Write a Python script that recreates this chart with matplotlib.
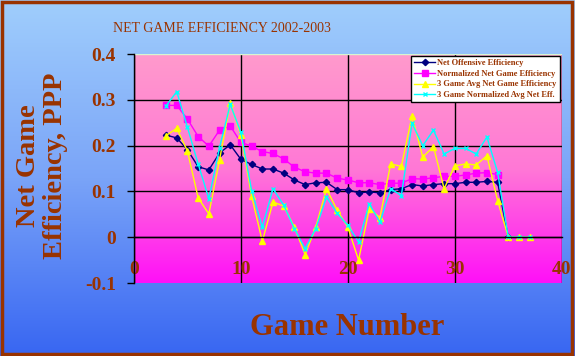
import numpy as np
import matplotlib.pyplot as plt
from matplotlib.colors import LinearSegmentedColormap
from matplotlib.patches import Rectangle

plt.rcParams['font.family'] = 'Liberation Serif'

# data (game number -> points per possession)
games_off = list(range(3, 36))
net_off = [0.223, 0.217, 0.191, 0.154, 0.147, 0.184, 0.202, 0.170, 0.159, 0.149,
           0.149, 0.140, 0.125, 0.115, 0.119, 0.120, 0.104, 0.104, 0.097, 0.099,
           0.097, 0.104, 0.106, 0.115, 0.112, 0.115, 0.117, 0.117, 0.120, 0.120,
           0.122, 0.120, 0.0]

games_norm = list(range(3, 35))
norm_net = [0.288, 0.288, 0.258, 0.220, 0.199, 0.234, 0.243, 0.207, 0.199, 0.187,
            0.183, 0.171, 0.153, 0.143, 0.140, 0.140, 0.129, 0.125, 0.119, 0.119,
            0.115, 0.118, 0.118, 0.128, 0.127, 0.130, 0.133, 0.133, 0.136, 0.140,
            0.141, 0.137]

games_avg = list(range(3, 38))
avg3_net = [0.222, 0.238, 0.188, 0.086, 0.051, 0.169, 0.293, 0.223, 0.090, -0.009,
            0.077, 0.068, 0.022, -0.038, 0.022, 0.106, 0.059, 0.022, -0.050, 0.062,
            0.043, 0.160, 0.155, 0.265, 0.175, 0.198, 0.106, 0.156, 0.160, 0.158,
            0.178, 0.080, 0.0, 0.0, 0.0]
avg3_norm = [0.287, 0.318, 0.240, 0.160, 0.084, 0.196, 0.290, 0.229, 0.102, 0.022,
             0.106, 0.070, 0.019, -0.025, 0.019, 0.088, 0.052, 0.026, -0.010, 0.073,
             0.033, 0.106, 0.091, 0.249, 0.200, 0.234, 0.182, 0.194, 0.194, 0.182,
             0.219, 0.142, 0.0, 0.0, 0.0]

labels = ["Net Offensive Efficiency", "Normalized Net Game Efficiency",
          "3 Game Avg Net Game Efficiency", "3 Game Normalized Avg Net Eff."]
yticks = [-0.1, 0, 0.1, 0.2, 0.3, 0.4]
ytick_labels = ["-0.1", "0", "0.1", "0.2", "0.3", "0.4"]
xticks = [0, 10, 20, 30, 40]

brown = '#993300'

fig = plt.figure(figsize=(5.75, 3.56), dpi=100)

# blue gradient background
bg = fig.add_axes([0, 0, 1, 1])
bg.axis('off')
grad = np.linspace(0, 1, 256).reshape(-1, 1)
blue = LinearSegmentedColormap.from_list('blue', ['#A0CEFC', '#7AA4F8', '#3866F2'])
bg.imshow(grad, aspect='auto', cmap=blue, extent=[0, 1, 0, 1], origin='upper')
bg.set_xlim(0, 1)
bg.set_ylim(0, 1)
fig.patches.append(Rectangle((0.004, 0.006), 0.990, 0.988, transform=fig.transFigure,
                             fill=False, edgecolor=brown, lw=2.5))

ax = fig.add_axes([0.233, 0.205, 0.744, 0.643])
pink = LinearSegmentedColormap.from_list('pink', ['#FF9ACC', '#FF78D6', '#FF10F8'])
ax.imshow(grad, aspect='auto', cmap=pink, extent=[0, 40, -0.1, 0.4], origin='upper', zorder=0)

ax.plot(games_off, net_off, color='#000080', marker='D', ms=3.2, lw=1, label=labels[0])
ax.plot(games_norm, norm_net, color='#FF00FF', marker='s', ms=5, lw=1, label=labels[1])
ax.plot(games_avg, avg3_net, color='#FFFF00', marker='^', ms=4.5, lw=1, label=labels[2])
ax.plot(games_avg, avg3_norm, color='#00FFFF', marker='x', ms=3.5, mew=1, lw=1, label=labels[3])

ax.set_xlim(0, 40)
ax.set_ylim(-0.1, 0.4)
ax.set_xticks(xticks)
ax.set_yticks(yticks)
ax.set_yticklabels(ytick_labels)

ax.grid(True, color='black', lw=1, zorder=1)
ax.set_axisbelow(True)
ygl = ax.yaxis.get_gridlines()
ygl[0].set_visible(False)
ygl[-1].set_visible(False)
xgl = ax.xaxis.get_gridlines()
xgl[0].set_visible(False)
xgl[-1].set_visible(False)

for s in ['top', 'right']:
    ax.spines[s].set_visible(False)
ax.spines['left'].set_linewidth(1)
ax.spines['bottom'].set_position(('data', 0))
ax.spines['bottom'].set_linewidth(1)
ax.axhline(0.4, color='#D8F5D0', lw=1)

ax.tick_params(axis='x', length=0, pad=17, labelsize=14, labelcolor=brown)
ax.tick_params(axis='y', length=5, width=1, pad=8, labelsize=14, labelcolor=brown)
for t in ax.get_xticklabels() + ax.get_yticklabels():
    t.set_fontweight('bold')

leg = ax.legend(loc='upper right', bbox_to_anchor=(0.995, 0.993),
                prop=dict(family='Liberation Serif', weight='bold', size=6),
                labelcolor=brown, fancybox=False, edgecolor='black', framealpha=1,
                borderpad=0.35, labelspacing=0.35, handlelength=2.5, handletextpad=0.3,
                borderaxespad=0)
leg.get_frame().set_linewidth(1)

fig.text(0.197, 0.921, 'NET GAME EFFICIENCY 2002-2003', fontsize=10, color=brown,
         ha='left', va='center')
fig.text(0.073, 0.534, 'Net Game\nEfficiency, PPP', rotation=90, ha='center', va='center',
         multialignment='center', fontsize=20.5, fontweight='bold', color=brown,
         linespacing=1.1)
fig.text(0.603, 0.079, 'Game Number', fontsize=22, fontweight='bold', color=brown,
         ha='center', va='center')

fig.savefig('out.png', dpi=100)
